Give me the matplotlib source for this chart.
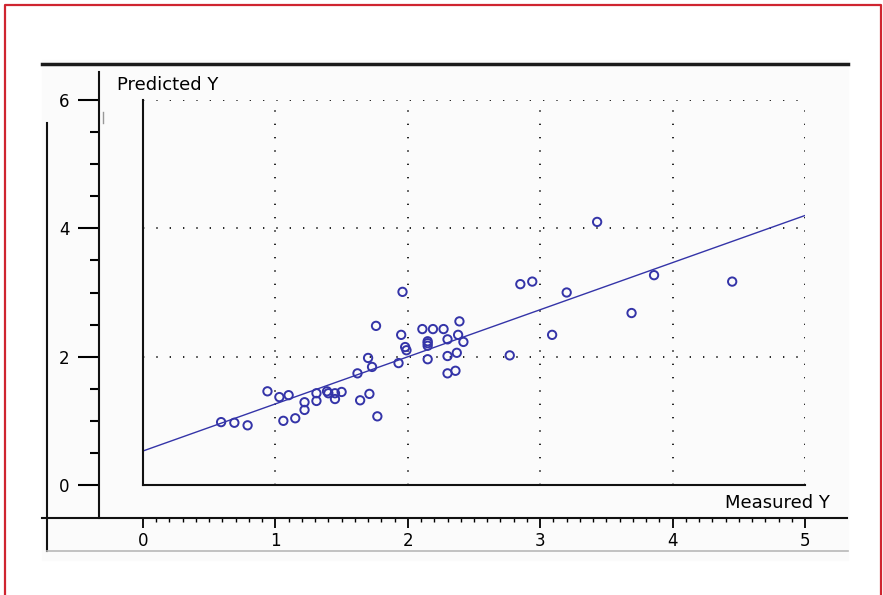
import numpy as np
import matplotlib
matplotlib.use("Agg")
import matplotlib.pyplot as plt
from matplotlib.lines import Line2D
from matplotlib.ticker import MultipleLocator

plt.rcParams["font.family"] = ["DejaVu Sans"]

# measured vs predicted values
measured = [0.59, 0.69, 0.79, 0.94, 1.03, 1.10, 1.06, 1.15, 1.22, 1.22,
            1.31, 1.31, 1.39, 1.40, 1.45, 1.45, 1.50, 1.62, 1.64, 1.71,
            1.77, 1.96, 1.76, 1.95, 1.98, 1.99, 1.70, 1.73, 1.93, 2.11,
            2.19, 2.27, 2.15, 2.15, 2.15, 2.15, 2.39, 2.30, 2.38, 2.42,
            2.30, 2.37, 2.30, 2.36, 3.43, 2.85, 2.94, 3.20, 3.86, 3.69,
            3.09, 2.77, 4.45]
predicted = [0.98, 0.97, 0.93, 1.46, 1.37, 1.40, 1.00, 1.04, 1.29, 1.17,
             1.43, 1.31, 1.46, 1.43, 1.43, 1.34, 1.45, 1.74, 1.32, 1.42,
             1.07, 3.01, 2.48, 2.34, 2.15, 2.10, 1.98, 1.84, 1.90, 2.43,
             2.43, 2.43, 2.24, 2.21, 2.17, 1.96, 2.55, 2.27, 2.34, 2.23,
             2.01, 2.06, 1.74, 1.78, 4.10, 3.13, 3.17, 3.00, 3.27, 2.68,
             2.34, 2.02, 3.17]

# fitted regression line
intercept = 0.53
slope = 0.734

x_ticks = [0, 1, 2, 3, 4, 5]
y_ticks = [0, 2, 4, 6]

BLUE = "#3434a8"
RED = "#cf2530"
W, H = 883, 595


def fx(px):
    return px / W


def fy(py):
    return 1 - py / H


fig = plt.figure(figsize=(W / 100, H / 100), dpi=100)
fig.patch.set_facecolor("white")

# faint panel behind the chart
fig.add_artist(plt.Rectangle((fx(42), fy(560)), fx(848) - fx(42), fy(60) - fy(560),
                             transform=fig.transFigure, color="#fbfbfb", zorder=0))

ax = fig.add_axes([fx(143), fy(485), fx(805) - fx(143), fy(100) - fy(485)])
ax.set_facecolor("none")
ax.set_xlim(0, 5)
ax.set_ylim(0, 6)

# outer axes (spines pushed outward)
for s in ["top", "right"]:
    ax.spines[s].set_visible(False)
ax.spines["left"].set_position(("outward", 44 * 0.72))
ax.spines["bottom"].set_position(("outward", 33 * 0.72))
ax.spines["left"].set_bounds(-0.51, 6.43)
ax.spines["bottom"].set_bounds(-0.76, 5.32)
for s in ["left", "bottom"]:
    ax.spines[s].set_linewidth(1.5)
    ax.spines[s].set_color("#111111")

ax.set_xticks(x_ticks)
ax.set_yticks(y_ticks)
ax.xaxis.set_minor_locator(MultipleLocator(0.1))
ax.yaxis.set_minor_locator(MultipleLocator(0.5))
ax.tick_params(axis="y", which="major", length=15, width=1.5, pad=6, labelsize=12)
ax.tick_params(axis="y", which="minor", length=6.5, width=1.5)
ax.tick_params(axis="x", which="major", length=7, width=1.3, pad=3, labelsize=12)
ax.tick_params(axis="x", which="minor", length=3, width=1.0)

# dotted grid
ax.grid(True, which="major", color="black", linestyle=(0, (0.8, 7.2)), linewidth=1.2)

# inner frame
ax.axvline(0, color="#111111", lw=1.5, clip_on=False, zorder=5)
ax.axhline(0, color="#111111", lw=1.5, clip_on=False, zorder=5)

# data
xs = np.linspace(0, 5, 50)
ax.plot(xs, intercept + slope * xs, color=BLUE, lw=1.0, zorder=3)
ax.scatter(measured, predicted, s=36, facecolors="none", edgecolors=BLUE,
           linewidths=1.4, zorder=4)

fig.text(fx(117), fy(85), "Predicted Y", ha="left", va="center", fontsize=13)
fig.text(fx(830), fy(503), "Measured Y", ha="right", va="center", fontsize=13)

# surrounding frame lines
fig.add_artist(Line2D([fx(42), fx(848)], [fy(64), fy(64)], lw=2.5, color="#1a1a1a",
                      transform=fig.transFigure))
fig.add_artist(Line2D([fx(47), fx(47)], [fy(123), fy(551)], lw=1.5, color="#111111",
                      transform=fig.transFigure))
fig.add_artist(Line2D([fx(47), fx(848)], [fy(551), fy(551)], lw=1.2, color="#b8b8b8",
                      transform=fig.transFigure))
fig.add_artist(Line2D([fx(103), fx(103)], [fy(112), fy(123)], lw=1.0, color="#999999",
                      transform=fig.transFigure))

# red border
fig.add_artist(Line2D([fx(5), fx(5), fx(881), fx(881)], [0, fy(5), fy(5), 0],
                      lw=1.6, color=RED, transform=fig.transFigure))

fig.savefig("out.png", dpi=100, facecolor="white")
